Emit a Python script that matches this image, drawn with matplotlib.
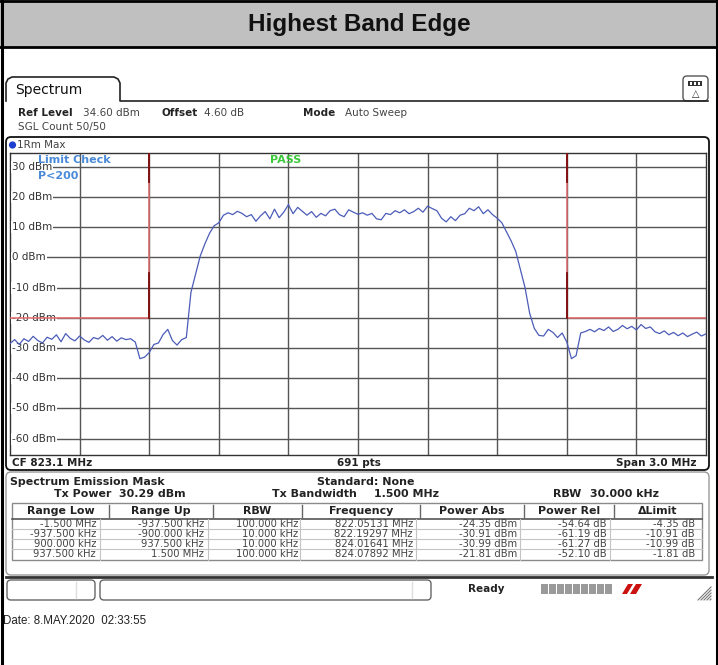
import matplotlib
matplotlib.use('Agg')
import matplotlib.pyplot as plt
import numpy as np
from matplotlib.patches import FancyBboxPatch, Rectangle, Circle, Polygon

W, H = 718, 665

# analyzer settings
center_mhz = 823.1
span_mhz = 3.0
ref_level = 34.6
n_div = 10
db_per_div = 10
limit_dbm = -20
limit_edges = [822.2, 824.0]   # CF -/+ 900 kHz

# trace levels (dBm), 151 sweep points across the span
levels = [
    -28.5, -27.2, -28.8, -26.9, -27.8, -26.1, -27.5, -28.3, -26.4, -27.1,
    -25.6, -27.9, -25.2, -26.8, -27.6, -26.0, -27.3, -28.1, -26.5, -27.0,
    -25.8, -27.4, -26.2, -27.7, -26.6, -27.2, -26.9, -28.0, -33.5, -33.0,
    -31.5, -28.8, -28.3, -25.5, -23.8, -27.5, -29.0, -27.2, -26.5, -11.5,
    -5.5, 0.5, 4.5, 8.0, 10.5, 11.5, 14.0, 14.8, 14.2, 15.3,
    14.6, 13.5, 14.2, 12.0, 13.8, 15.2, 12.8, 16.0, 13.2, 15.0,
    17.5, 14.5, 16.6, 15.3, 14.0, 15.2, 13.3, 14.6, 13.8, 15.5,
    16.0, 14.2, 13.5, 15.8, 15.0, 14.3, 14.8, 14.0, 14.6, 12.8,
    12.5, 14.6, 14.2, 15.5, 14.8, 15.8, 14.5, 15.2, 16.3, 15.0,
    17.0, 16.2, 15.5, 13.0, 11.8, 13.5, 12.2, 14.0, 14.5, 16.3,
    15.5, 16.8, 14.5, 15.8, 14.2, 13.0, 11.5, 8.5, 5.5, 2.0,
    -4.0, -10.0, -18.5, -23.5, -25.8, -26.0, -23.8, -24.8, -26.5, -25.0,
    -28.0, -33.5, -32.5, -25.0, -24.5, -23.8, -24.6, -23.5, -24.2, -23.0,
    -24.5, -23.8, -22.5, -23.6, -22.8, -24.0, -22.2, -23.5, -23.0, -24.6,
    -25.2, -24.3, -25.6, -24.8, -25.9, -25.0, -26.2, -25.4, -24.7, -26.0,
    -25.3,
]
freqs = np.linspace(center_mhz - span_mhz / 2, center_mhz + span_mhz / 2, len(levels))

y_ticks = [30, 20, 10, 0, -10, -20, -30, -40, -50, -60]

# result table
headers = ['Range Low', 'Range Up', 'RBW', 'Frequency', 'Power Abs', 'Power Rel', '\u0394Limit']
range_low = ['-1.500 MHz', '-937.500 kHz', '900.000 kHz', '937.500 kHz']
range_up = ['-937.500 kHz', '-900.000 kHz', '937.500 kHz', '1.500 MHz']
rbw = ['100.000 kHz', '10.000 kHz', '10.000 kHz', '100.000 kHz']
peak_freq = ['822.05131 MHz', '822.19297 MHz', '824.01641 MHz', '824.07892 MHz']
power_abs = ['-24.35 dBm', '-30.91 dBm', '-30.99 dBm', '-21.81 dBm']
power_rel = ['-54.64 dB', '-61.19 dB', '-61.27 dB', '-52.10 dB']
delta_limit = ['-4.35 dB', '-10.91 dB', '-10.99 dB', '-1.81 dB']

FS = 7.5
FT = 7.9   # bold texts of the result panel
TXT = '#222222'

fig = plt.figure(figsize=(W / 100, H / 100), dpi=100)
bg = fig.add_axes([0, 0, 1, 1])
bg.set_xlim(0, W)
bg.set_ylim(H, 0)
bg.axis('off')

# title band and frame
bg.add_patch(Rectangle((0, 0), W, 47, fc='#c0c0c0', ec='none'))
bg.plot([0, W], [1, 1], color='black', lw=2)
bg.plot([0, W], [47, 47], color='black', lw=2)
bg.plot([1.5, 1.5], [0, H], color='black', lw=2.2)
bg.plot([716.5, 716.5], [0, H], color='black', lw=2.2)
bg.text(359, 25, 'Highest Band Edge', ha='center', va='center', fontsize=17.5,
        fontweight='bold', family='Liberation Sans', color='#111111')

# spectrum tab
tab = [(6, 101), (6, 83), (8, 79), (12, 77), (114, 77), (118, 79), (120, 83), (120, 101), (708, 101)]
bg.plot([p[0] for p in tab], [p[1] for p in tab], color='#222222', lw=1.2)
bg.text(15, 90, 'Spectrum', fontsize=10, va='center', color='#111111')
bg.add_patch(FancyBboxPatch((683, 76), 25, 25, boxstyle='round,pad=0,rounding_size=4',
                            fc='white', ec='#555555', lw=1))
bg.add_patch(Rectangle((688, 81), 14, 5, fc='#333333', ec='none'))
for k in range(3):
    bg.add_patch(Rectangle((689.5 + k * 4, 82.2), 2.5, 2.6, fc='white', ec='none'))
bg.text(695.5, 94, '\u25b3', ha='center', va='center', fontsize=7, color='#333333')

# setting lines
bg.text(18, 113, 'Ref Level', fontsize=FS, fontweight='bold', va='center', color=TXT)
bg.text(83, 113, '34.60 dBm', fontsize=FS, va='center', color='#444444')
bg.text(162, 113, 'Offset', fontsize=FS, fontweight='bold', va='center', color=TXT)
bg.text(204, 113, '4.60 dB', fontsize=FS, va='center', color='#444444')
bg.text(303, 113, 'Mode', fontsize=FS, fontweight='bold', va='center', color=TXT)
bg.text(345, 113, 'Auto Sweep', fontsize=FS, va='center', color='#444444')
bg.text(18, 127, 'SGL Count 50/50', fontsize=FS, va='center', color='#444444')

# diagram panel
bg.add_patch(FancyBboxPatch((6, 137), 703, 333, boxstyle='round,pad=0,rounding_size=5',
                            fc='white', ec='#111111', lw=1.3))
bg.add_patch(Circle((12.5, 145), 3.6, fc='#1f3fd0', ec='none'))
bg.text(17, 145, '1Rm Max', fontsize=FS, va='center', color='#444444')
bg.text(12, 463, 'CF 823.1 MHz', fontsize=FS, fontweight='bold', va='center', color=TXT)
bg.text(359, 463, '691 pts', fontsize=FS, fontweight='bold', va='center', ha='center', color=TXT)
bg.text(697, 463, 'Span 3.0 MHz', fontsize=FS, fontweight='bold', va='center', ha='right', color=TXT)

# spectrum axes
x0, y0, x1, y1 = 10, 153, 706, 455
ax = fig.add_axes([x0 / W, 1 - y1 / H, (x1 - x0) / W, (y1 - y0) / H])
f_lo = center_mhz - span_mhz / 2
f_hi = center_mhz + span_mhz / 2
ax.set_xlim(f_lo, f_hi)
ax.set_ylim(ref_level - n_div * db_per_div, ref_level)
ax.set_xticks([])
ax.set_yticks([])
for s in ax.spines.values():
    s.set_color('#333333')
    s.set_linewidth(1)
for k in range(1, n_div):
    ax.axvline(f_lo + k * span_mhz / n_div, color='#555555', lw=1, zorder=1)
for v in y_ticks:
    ax.axhline(v, color='#555555', lw=1, zorder=1)
    ax.text(f_lo + 0.009, v, f'{v} dBm', fontsize=FS, va='center', color='#333333', zorder=3,
            bbox=dict(fc='white', ec='none', pad=0.6))

# limit mask (drawn over the level labels, like the instrument does)
top = ref_level
ax.plot([f_lo, limit_edges[0], limit_edges[0]], [limit_dbm, limit_dbm, top],
        color='#e06a6a', lw=1.1, zorder=3.5)
ax.plot([limit_edges[1], limit_edges[1], f_hi], [top, limit_dbm, limit_dbm],
        color='#e06a6a', lw=1.1, zorder=3.5)
for fe in limit_edges:
    ax.plot([fe, fe], [top, 25], color='#7a0a0a', lw=1.3, zorder=3.5)
    ax.plot([fe, fe], [-5.3, limit_dbm], color='#7a0a0a', lw=1.3, zorder=3.5)

ax.plot(freqs, levels, color='#4b5cb8', lw=0.9, zorder=4)

ax.text(38, 160, 'Limit Check', transform=bg.transData, fontsize=8, fontweight='bold',
        color='#4a8ad8', va='center', zorder=5)
ax.text(38, 176, 'P<200', transform=bg.transData, fontsize=8, fontweight='bold',
        color='#4a8ad8', va='center', zorder=5)
ax.text(286, 160, 'PASS', transform=bg.transData, fontsize=8, fontweight='bold',
        color='#3cc83c', va='center', ha='center', zorder=5)

# result panel
bg.add_patch(FancyBboxPatch((6, 472), 703, 103, boxstyle='round,pad=0,rounding_size=5',
                            fc='white', ec='#999999', lw=1))
bg.text(10, 482, 'Spectrum Emission Mask', fontsize=FT, fontweight='bold', va='center', color=TXT)
bg.text(366, 482, 'Standard: None', fontsize=FT, fontweight='bold', va='center', ha='center', color=TXT)
bg.text(54, 494, 'Tx Power', fontsize=FT, fontweight='bold', va='center', color=TXT)
bg.text(119, 494, '30.29 dBm', fontsize=FT, fontweight='bold', va='center', color=TXT)
bg.text(272, 494, 'Tx Bandwidth', fontsize=FT, fontweight='bold', va='center', color=TXT)
bg.text(374, 494, '1.500 MHz', fontsize=FT, fontweight='bold', va='center', color=TXT)
bg.text(553, 494, 'RBW', fontsize=FT, fontweight='bold', va='center', color=TXT)
bg.text(590, 494, '30.000 kHz', fontsize=FT, fontweight='bold', va='center', color=TXT)

col_edges = [12, 109, 213, 302, 420, 524, 614, 702]
text_right = [96, 204, 298, 413, 517, 607, 695]
row_y = [524, 534, 544, 554]
bg.add_patch(Rectangle((12, 503), 690, 57, fc='white', ec='#8a8a8a', lw=1))
bg.plot([12, 702], [519, 519], color='#555555', lw=1.2)
for xe in col_edges[1:-1]:
    bg.plot([xe, xe], [505, 517], color='#666666', lw=1)
for i, h in enumerate(headers):
    bg.text((col_edges[i] + col_edges[i + 1]) / 2, 511, h, fontsize=FT, fontweight='bold',
            ha='center', va='center', color=TXT)
for yy in row_y[:-1]:
    bg.plot([12, 702], [yy + 5, yy + 5], color='#c4c4c4', lw=0.8)
for xe in [100, 208, 300, 416, 520, 610]:
    bg.plot([xe, xe], [519, 560], color='#c4c4c4', lw=0.8)
columns = [range_low, range_up, rbw, peak_freq, power_abs, power_rel, delta_limit]
for c, col in enumerate(columns):
    for r, val in enumerate(col):
        bg.text(text_right[c], row_y[r], val, fontsize=7.2, ha='right', va='center', color='#444444')

# status bar
bg.plot([6, 712], [577, 577], color='#333333', lw=2)
bg.add_patch(FancyBboxPatch((7, 580), 88, 20, boxstyle='round,pad=0,rounding_size=4',
                            fc='white', ec='#666666', lw=1))
bg.plot([76, 76], [582, 598], color='#dddddd', lw=1)
bg.add_patch(FancyBboxPatch((100, 580), 331, 20, boxstyle='round,pad=0,rounding_size=4',
                            fc='white', ec='#666666', lw=1))
bg.plot([412, 412], [582, 598], color='#dddddd', lw=1)
bg.text(486, 589, 'Ready', fontsize=FS, fontweight='bold', ha='center', va='center', color=TXT)
for k in range(9):
    bg.add_patch(Rectangle((541 + k * 8, 584), 7, 10, fc='#9a9a9a', ec='none'))
bg.add_patch(Polygon([(622, 594), (628, 584), (633, 584), (627, 594)], fc='#cc1111', ec='none'))
bg.add_patch(Polygon([(630, 594), (636, 584), (642, 584), (636, 594)], fc='#cc1111', ec='none'))
for k in range(5):
    bg.plot([698 + k * 3, 711], [600, 587 + k * 3], color='#777777', lw=0.8)

bg.text(3, 621, 'Date: 8.MAY.2020  02:33:55', fontsize=8.3, family='Liberation Sans',
        va='center', color='#222222')

fig.savefig('out.png', dpi=100)
